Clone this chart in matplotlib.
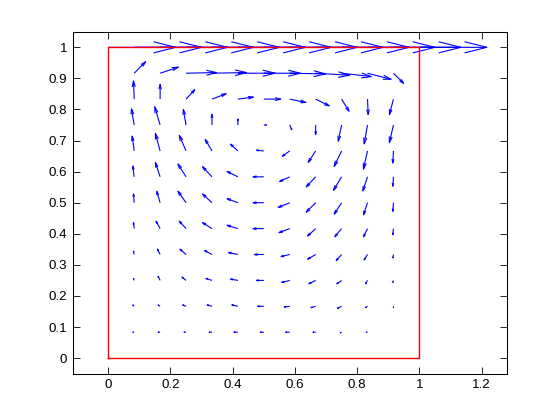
import numpy as np
import matplotlib
matplotlib.use("Agg")
import matplotlib.pyplot as plt

# ---------------- data ----------------
n = 12                                   # grid intervals
grid_k = np.arange(1, n)                 # interior grid indices 1..11
x_interior = grid_k / n
y_interior = grid_k / n

# velocity (rows j = 1..11 from bottom, columns k = 1..11)
u_rows = [
    [-0.02, -0.03, -0.03, -0.04, -0.06, -0.05, -0.06, -0.04, -0.02, -0.02, 0.00],
    [-0.02, -0.03, -0.05, -0.07, -0.09, -0.09, -0.08, -0.07, -0.06, -0.03, 0.00],
    [-0.01, -0.03, -0.06, -0.09, -0.11, -0.11, -0.12, -0.10, -0.07, -0.03, -0.01],
    [-0.01, -0.04, -0.09, -0.11, -0.14, -0.14, -0.13, -0.12, -0.08, -0.05, -0.01],
    [-0.01, -0.06, -0.10, -0.14, -0.16, -0.16, -0.16, -0.12, -0.10, -0.06, -0.01],
    [-0.01, -0.05, -0.12, -0.14, -0.16, -0.16, -0.17, -0.14, -0.11, -0.06, -0.01],
    [-0.02, -0.07, -0.12, -0.14, -0.16, -0.16, -0.15, -0.14, -0.12, -0.07, -0.01],
    [-0.03, -0.07, -0.10, -0.10, -0.11, -0.11, -0.11, -0.11, -0.11, -0.06, -0.01],
    [-0.04, -0.08, -0.04, 0.00, 0.00, 0.04, 0.03, 0.00, -0.05, -0.05, -0.06],
    [-0.01, 0.00, 0.13, 0.21, 0.23, 0.25, 0.24, 0.20, 0.11, 0.01, -0.06],
    [0.17, 0.27, 0.45, 0.51, 0.55, 0.54, 0.53, 0.50, 0.44, 0.35, 0.15],
]
v_rows = [
    [0.00, 0.00, 0.00, 0.00, 0.00, 0.00, 0.00, 0.00, -0.01, 0.00, 0.00],
    [0.02, 0.02, 0.02, 0.02, 0.02, 0.00, -0.01, -0.02, -0.03, -0.02, -0.02],
    [0.03, 0.06, 0.05, 0.03, 0.02, 0.00, -0.03, -0.05, -0.05, -0.05, -0.03],
    [0.05, 0.08, 0.08, 0.06, 0.03, 0.00, -0.03, -0.07, -0.09, -0.08, -0.05],
    [0.09, 0.11, 0.11, 0.09, 0.05, 0.00, -0.06, -0.11, -0.12, -0.12, -0.09],
    [0.13, 0.17, 0.17, 0.13, 0.06, 0.00, -0.07, -0.14, -0.17, -0.18, -0.13],
    [0.16, 0.21, 0.19, 0.15, 0.08, 0.00, -0.07, -0.15, -0.20, -0.21, -0.14],
    [0.22, 0.26, 0.23, 0.17, 0.10, 0.01, -0.08, -0.17, -0.23, -0.27, -0.18],
    [0.24, 0.27, 0.23, 0.16, 0.09, 0.00, -0.07, -0.14, -0.24, -0.28, -0.26],
    [0.27, 0.22, 0.14, 0.08, 0.03, 0.00, -0.05, -0.10, -0.18, -0.23, -0.23],
    [0.17, 0.09, 0.01, 0.01, 0.00, 0.00, -0.01, -0.03, -0.05, -0.09, -0.15],
]

# moving lid (y = 1), grid points 0..12
x_lid = np.arange(0, n + 1) / n
u_lid = np.ones(n + 1)
v_lid = np.zeros(n + 1)
y_lid_level = 1.0

# cavity outline
box_x = [0, 1, 1, 0, 0]
box_y = [0, 0, 1, 1, 0]

x_ticks = [0, 0.2, 0.4, 0.6, 0.8, 1, 1.2]
x_ticklabels = ["0", "0.2", "0.4", "0.6", "0.8", "1", "1.2"]
y_ticks = [0, 0.1, 0.2, 0.3, 0.4, 0.5, 0.6, 0.7, 0.8, 0.9, 1]
y_ticklabels = ["0", "0.1", "0.2", "0.3", "0.4", "0.5", "0.6", "0.7", "0.8", "0.9", "1"]

# ---------------- assemble ----------------
XX, YY = np.meshgrid(x_interior, y_interior)
X = np.concatenate([XX.ravel(), x_lid])
Y = np.concatenate([YY.ravel(), np.full(n + 1, y_lid_level)])
U = np.concatenate([np.array(u_rows).ravel(), u_lid])
V = np.concatenate([np.array(v_rows).ravel(), v_lid])

# MATLAB-style quiver (line arrows, head proportional to length)
S = 0.217
alpha, beta = 0.33, 0.25
us, vs = U * S, V * S
eps = 1e-12
nanv = np.full_like(X, np.nan)
shaft_x = np.column_stack([X, X + us, nanv]).ravel()
shaft_y = np.column_stack([Y, Y + vs, nanv]).ravel()
h1x = X + us - alpha * (us + beta * (vs + eps))
h1y = Y + vs - alpha * (vs - beta * (us + eps))
h2x = X + us - alpha * (us - beta * (vs + eps))
h2y = Y + vs - alpha * (vs + beta * (us + eps))
head_x = np.column_stack([h1x, X + us, h2x, nanv]).ravel()
head_y = np.column_stack([h1y, Y + vs, h2y, nanv]).ravel()

# ---------------- figure ----------------
plt.rcParams['font.family'] = ['Liberation Sans', 'DejaVu Sans']
fig = plt.figure(figsize=(5.6, 4.2), dpi=100)
ax = fig.add_axes([0.13, 0.11, 0.775, 0.815])

LW = 0.8
ax.plot(shaft_x, shaft_y, color='#0000ff', lw=LW, solid_capstyle='butt', zorder=2)
ax.plot(head_x, head_y, color='#0000ff', lw=LW, solid_capstyle='butt', zorder=2)
ax.plot(box_x, box_y, color='#ff0000', lw=1.0, zorder=3)

ax.set_xlim(-0.114, 1.281)
ax.set_ylim(-0.0505, 1.0509)
ax.set_xticks(x_ticks)
ax.set_xticklabels(x_ticklabels)
ax.set_yticks(y_ticks)
ax.set_yticklabels(y_ticklabels)
ax.tick_params(direction='in', top=True, right=True, length=5, width=0.6,
               labelsize=9.6, pad=4)
for sp in ax.spines.values():
    sp.set_linewidth(0.75)
    sp.set_color('black')

fig.savefig("out.png", dpi=100, facecolor='white')
